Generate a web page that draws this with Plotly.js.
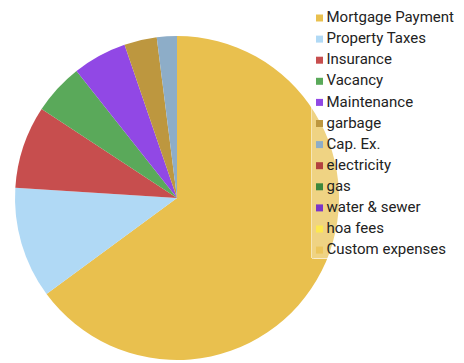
<!DOCTYPE html>
<html>
<head>
<meta charset="utf-8">
<script src="https://cdn.plot.ly/plotly-3.0.1.min.js"></script>
<style>html,body{margin:0;padding:0;background:#fff;}#chart{width:464px;height:363px;}</style>
</head>
<body>
<div id="chart"></div>
<script>
const labels = ["Mortgage Payment","Property Taxes","Insurance","Vacancy","Maintenance","garbage","Cap. Ex.","electricity","gas","water & sewer","hoa fees","Custom expenses"];
const values = [1298, 222, 165, 102, 108, 65, 40, 0, 0, 0, 0, 0];
const colors = ["#E9C04E","#B0D9F5","#C74E4E","#5AA95A","#9148E5","#BD973F","#8DADC8","#B3403F","#3C873C","#7A35C8","#FDE84F","#ECC65C"];

const W = 464, H = 363;
const trace = {
  type: "pie",
  labels: labels,
  values: values,
  marker: {colors: colors, line: {width: 0}},
  sort: false,
  direction: "clockwise",
  rotation: 0,
  textinfo: "none",
  hoverinfo: "none",
  domain: {x: [15/W, 339/W], y: [3/H, 327/H]}
};
const layout = {
  width: W, height: H,
  margin: {l: 0, r: 0, t: 0, b: 0},
  paper_bgcolor: "#ffffff",
  showlegend: true,
  font: {family: "Roboto, sans-serif", size: 15, color: "#222"},
  legend: {
    x: 0, y: 1, xanchor: "left", yanchor: "top",
    bgcolor: "rgba(255,255,255,0.3)",
    bordercolor: "rgba(255,255,255,0.6)", borderwidth: 1,
    font: {family: "Roboto, sans-serif", size: 15, color: "#222"}
  }
};
Plotly.newPlot("chart", [trace], layout, {displayModeBar: false, staticPlot: true}).then(function () {
  // compact legend styling: place box at right, small swatches, tight spacing
  const leg = document.querySelector("g.legend");
  if (!leg) return;
  leg.setAttribute("transform", "translate(311,5)");
  const bg = leg.querySelector("rect.bg");
  if (bg) {
    bg.setAttribute("x", 0.5); bg.setAttribute("y", 0.5);
    bg.setAttribute("width", 139); bg.setAttribute("height", 253);
    bg.setAttribute("rx", 2); bg.setAttribute("ry", 2);
  }
  const sb = leg.querySelector("g.scrollbox");
  if (sb) sb.setAttribute("transform", "translate(0,0)");
  const grp = leg.querySelector("g.groups");
  if (grp) grp.setAttribute("transform", "translate(0,0)");
  const items = leg.querySelectorAll("g.traces");
  items.forEach(function (g, i) {
    g.setAttribute("transform", "translate(0," + (11.3 + i * 21.1) + ")");
    const t = g.querySelector("text.legendtext");
    if (t) t.setAttribute("x", 15.5);
    const p = g.querySelector("path.legendpie");
    if (p) {
      p.setAttribute("d", "M3.5,3.5H-3.5V-3.5H3.5Z");
      p.setAttribute("transform", "translate(8.5,1.7)");
      p.style.strokeWidth = "0";
    }
  });
});
</script>
</body>
</html>
